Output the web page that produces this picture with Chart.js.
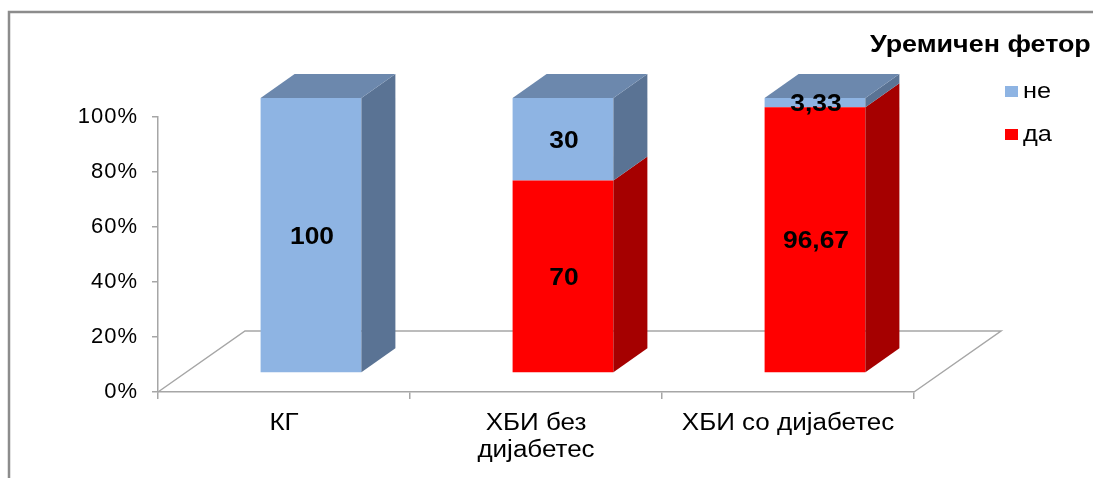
<!DOCTYPE html>
<html>
<head>
<meta charset="utf-8">
<script src="https://cdn.jsdelivr.net/npm/chart.js@4"></script>
<style>
  html, body { margin: 0; padding: 0; background: #fff; }
  #wrap { position: relative; width: 1093px; height: 478px; }
</style>
</head>
<body>
<div id="wrap"><canvas id="chart" width="1093" height="478"></canvas></div>
<script>
// Categories and shares (percent) per group
const groups = [['КГ'], ['ХБИ без', 'дијабетес'], ['ХБИ со дијабетес']];
const da = [0, 70, 96.67];
const ne = [100, 30, 3.33];
const yTicks = [0, 20, 40, 60, 80, 100];
const legendTitle = 'Уремичен фетор';

const FONT = "'Liberation Sans', Arial, sans-serif";
const GRID = '#a6a6a6';

// fake 3D: floor depth, how far back the bars sit, bar thickness
const FLOOR = { x: 87, y: 61 };
const SHIFT = { x: 27, y: 19 };
const DEPTH = { x: 34, y: 24 };

const faces = [
  { front: '#ff0000', side: '#a50000', top: '#c00000' },   // да
  { front: '#8eb4e3', side: '#5a7394', top: '#6c88ad' }    // не
];

function fmt(v) {
  return String(v).replace('.', ',');
}

function poly(ctx, pts, fill) {
  ctx.beginPath();
  ctx.moveTo(pts[0][0], pts[0][1]);
  for (let i = 1; i < pts.length; i++) ctx.lineTo(pts[i][0], pts[i][1]);
  ctx.closePath();
  ctx.fillStyle = fill;
  ctx.fill();
}

// text stretched sideways, the old GDI Arial look
function wideText(ctx, text, x, y, sx) {
  ctx.save();
  ctx.translate(x, y);
  ctx.scale(sx, 1);
  ctx.fillText(text, 0, 0);
  ctx.restore();
}

const prism = {
  id: 'prism',
  beforeDraw(chart) {
    const ctx = chart.ctx;
    const a = chart.chartArea;
    ctx.letterSpacing = '1px';   // kept for the y tick labels drawn next
    ctx.save();
    // outer frame
    ctx.strokeStyle = '#8c8c8c';
    ctx.lineWidth = 2.5;
    ctx.strokeRect(9, 12, 1100, 480);
    // floor
    ctx.strokeStyle = GRID;
    ctx.lineWidth = 1.5;
    ctx.beginPath();
    ctx.moveTo(a.left, a.bottom);
    ctx.lineTo(a.left + FLOOR.x, a.bottom - FLOOR.y);
    ctx.lineTo(a.right + FLOOR.x, a.bottom - FLOOR.y);
    ctx.lineTo(a.right, a.bottom);
    ctx.stroke();
    ctx.restore();
  },
  beforeDatasetsDraw(chart) {
    chart.ctx.save();
    chart.ctx.translate(SHIFT.x, -SHIFT.y);
  },
  afterDatasetsDraw(chart) {
    const ctx = chart.ctx;
    const n = chart.data.labels.length;
    const metas = chart.data.datasets.map((d, i) => chart.getDatasetMeta(i));

    for (let j = 0; j < n; j++) {
      let topIdx = -1;
      metas.forEach((m, i) => { if (chart.data.datasets[i].data[j] > 0) topIdx = i; });
      metas.forEach((m, i) => {
        if (!(chart.data.datasets[i].data[j] > 0)) return;
        const el = m.data[j];
        const p = el.getProps(['x', 'y', 'base', 'width'], true);
        const L = p.x - p.width / 2, R = p.x + p.width / 2;
        const T = Math.min(p.y, p.base), B = Math.max(p.y, p.base);
        poly(ctx, [[R, T], [R + DEPTH.x, T - DEPTH.y], [R + DEPTH.x, B - DEPTH.y], [R, B]], faces[i].side);
        if (i === topIdx) {
          poly(ctx, [[L, T], [R, T], [R + DEPTH.x, T - DEPTH.y], [L + DEPTH.x, T - DEPTH.y]], faces[i].top);
        }
      });
    }

    // value labels
    ctx.fillStyle = '#000';
    ctx.font = 'bold 24px ' + FONT;
    ctx.letterSpacing = '0px';
    ctx.textAlign = 'center';
    ctx.textBaseline = 'middle';
    metas.forEach((m, i) => {
      m.data.forEach((el, j) => {
        const v = chart.data.datasets[i].data[j];
        if (!(v > 0)) return;
        const p = el.getProps(['x', 'y', 'base'], true);
        wideText(ctx, fmt(v), p.x + 1, (p.y + p.base) / 2 + 2, 1.1);
      });
    });
    ctx.restore();
  },
  afterDraw(chart) {
    const ctx = chart.ctx;
    ctx.save();
    ctx.letterSpacing = '0px';
    ctx.fillStyle = '#000';

    // category labels under the axis
    const xs = chart.scales.x;
    ctx.font = '23px ' + FONT;
    ctx.textAlign = 'center';
    ctx.textBaseline = 'alphabetic';
    chart.data.labels.forEach((lines, i) => {
      const cx = xs.getPixelForTick(i);
      lines.forEach((t, k) => wideText(ctx, t, cx, 430 + k * 27, 1.13));
    });

    // legend
    ctx.textAlign = 'left';
    ctx.font = 'bold 24px ' + FONT;
    wideText(ctx, legendTitle, 870, 52, 1.12);

    const items = chart.data.datasets.slice().reverse();   // top series first
    ctx.font = '22px ' + FONT;
    ctx.textBaseline = 'middle';
    items.forEach((ds, k) => {
      const cy = 91 + k * 43;
      ctx.fillStyle = ds.backgroundColor;
      ctx.fillRect(1005, cy - 5, 13, 11);
      ctx.fillStyle = '#000';
      wideText(ctx, ds.label, 1023, cy + 1, 1.15);
    });
    ctx.restore();
  }
};

new Chart(document.getElementById('chart'), {
  type: 'bar',
  data: {
    labels: groups,
    datasets: [
      { label: 'да', data: da, backgroundColor: faces[0].front },
      { label: 'не', data: ne, backgroundColor: faces[1].front }
    ]
  },
  options: {
    responsive: false,
    animation: false,
    layout: { padding: { left: 0, top: 117, right: 179, bottom: 0 } },
    datasets: {
      bar: { categoryPercentage: 1, barPercentage: 0.4, borderWidth: 0 }
    },
    plugins: {
      legend: { display: false },
      tooltip: { enabled: false }
    },
    scales: {
      x: {
        stacked: true,
        afterFit(scale) { scale.height = 86; },
        grid: { offset: true, drawOnChartArea: false, drawTicks: true, tickLength: 7, color: GRID, lineWidth: 1.5 },
        border: { color: GRID, width: 1.5 },
        ticks: { display: false }
      },
      y: {
        stacked: true,
        min: 0,
        max: 100,
        afterFit(scale) { scale.width = 158; },
        afterBuildTicks(scale) { scale.ticks = yTicks.map(v => ({ value: v })); },
        grid: { drawOnChartArea: false, drawTicks: true, tickLength: 6, color: GRID, lineWidth: 1.5 },
        border: { color: GRID, width: 1.5 },
        ticks: {
          color: '#000',
          padding: 14,
          font: { family: FONT, size: 22 },
          callback: v => v + '%'
        }
      }
    }
  },
  plugins: [prism]
});
</script>
</body>
</html>
